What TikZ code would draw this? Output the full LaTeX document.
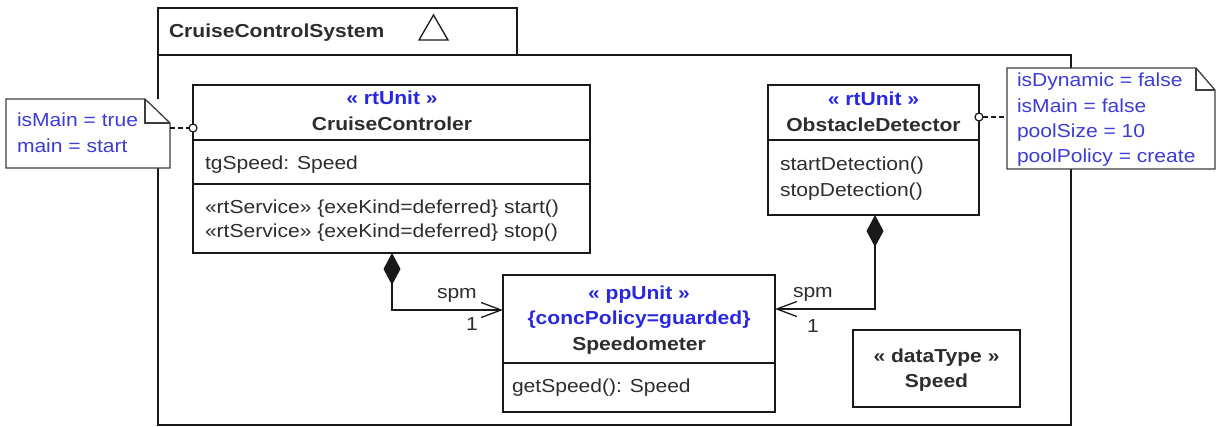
\documentclass[tikz,border=0pt]{standalone}
\usepackage{fontspec}
\setmainfont{Liberation Sans}[FakeStretch=1.12]
\usetikzlibrary{arrows.meta}
\definecolor{stereo}{RGB}{40,40,225}
\definecolor{notetext}{RGB}{60,60,215}
\definecolor{txt}{RGB}{45,45,45}
\definecolor{ln}{RGB}{25,25,25}
\begin{document}
\begin{tikzpicture}[x=1bp,y=-1bp,
  every node/.style={inner sep=0pt, outer sep=0pt, text=txt, font=\fontsize{18.8bp}{26bp}\selectfont},
  box/.style={draw=ln, line width=1.6bp, fill=white, anchor=north west},
  sep/.style={draw=ln, line width=1.6bp},
  notefill/.style={fill=white, anchor=north west},
  noteline/.style={draw=ln!85, line width=1.3bp},
  lt/.style={anchor=base west},
  ct/.style={anchor=base},
  bt/.style={anchor=base, font=\fontsize{18.8bp}{26bp}\selectfont\bfseries},
  st/.style={anchor=base, text=stereo, font=\fontsize{18.8bp}{26bp}\selectfont\bfseries},
  nt/.style={anchor=base west, text=notetext},
  port/.style={circle, draw=ln, line width=1.2bp, fill=white, minimum size=8bp},
  link/.style={draw=ln, line width=1.2bp, dashed, dash pattern=on 5bp off 3bp},
  assoc/.style={draw=ln, line width=1.6bp, {Diamond[length=32bp,width=17bp,fill=ln]}-{Straight Barb[length=20bp,width=15bp,line width=1.3bp]}}
]
\useasboundingbox (0,0) rectangle (1217,426);

% frame
\node[box, minimum width=913bp, minimum height=370bp] (frame) at (158,55) {};
\node[box, minimum width=359bp, minimum height=47bp] (tab) at (158,8) {};
\node[anchor=base west, font=\fontsize{18.8bp}{26bp}\selectfont\bfseries] (title) at (169,37) {CruiseControlSystem};
\draw[draw=ln, line width=1.3bp] (419,40) -- (433.5,15) -- (448,40) -- cycle;

% CruiseControler
\node[box, minimum width=397bp, minimum height=168bp] (cc) at (193,85) {};
\draw[sep] (cc.west |- 0,140) -- (cc.east |- 0,140);
\draw[sep] (cc.west |- 0,184) -- (cc.east |- 0,184);
\node[st] (cs) at (392,104) {« rtUnit »};
\node[bt] (cn) at (392,130) {CruiseControler};
\node[lt] (ca) at (205,169) {tgSpeed: Speed};
\node[lt] (co1) at (205,213) {«rtService» \{exeKind=deferred\} start()};
\node[lt] (co2) at (205,237) {«rtService» \{exeKind=deferred\} stop()};

% ObstacleDetector
\node[box, minimum width=211bp, minimum height=130bp] (od) at (768,85) {};
\draw[sep] (od.west |- 0,140) -- (od.east |- 0,140);
\node[st] (os) at (873.5,105) {« rtUnit »};
\node[bt] (on) at (873.5,131) {ObstacleDetector};
\node[lt] (oo1) at (780,170) {startDetection()};
\node[lt] (oo2) at (780,196) {stopDetection()};

% Speedometer
\node[box, minimum width=272bp, minimum height=137bp] (sp) at (503,275) {};
\draw[sep] (sp.west |- 0,363) -- (sp.east |- 0,363);
\node[st] (ss) at (639,299) {« ppUnit »};
\node[st] (sc) at (639,324) {\{concPolicy=guarded\}};
\node[bt] (sn) at (639,350) {Speedometer};
\node[lt] (so) at (512,392) {getSpeed(): Speed};

% Speed
\node[box, minimum width=167bp, minimum height=77bp] (spd) at (853,330) {};
\node[bt] (ds) at (936.5,362) {« dataType »};
\node[bt] (dn) at (936.5,387) {Speed};

% compositions
\coordinate (k1) at (392,310);
\coordinate (k2) at (875,309);
\draw[assoc] (cc.south -| k1) -- (k1) -- (k1 -| sp.west);
\draw[assoc] (od.south -| k2) -- (k2) -- (k2 -| sp.east);
\node[lt] (l1) at (437,298) {spm};
\node[ct] (l2) at (472,330) {1};
\node[lt] (l3) at (793,297) {spm};
\node[ct] (l4) at (813,332) {1};

% left note
\node[notefill, minimum width=164bp, minimum height=69bp] (n1) at (6,99) {};
\draw[noteline] (n1.north west) -- ([xshift=-25bp]n1.north east) -- ([yshift=-24bp]n1.north east) -- (n1.south east) -- (n1.south west) -- cycle;
\draw[noteline] ([xshift=-25bp]n1.north east) |- ([yshift=-24bp]n1.north east);
\node[nt] (m1) at (17,126) {isMain = true};
\node[nt] (m2) at (17,152) {main = start};
\node[port] (p1) at (193,128) {};
\draw[link] (n1.east |- p1) -- (p1.west);

% right note
\node[notefill, minimum width=208bp, minimum height=101bp] (n2) at (1007,68) {};
\draw[noteline] (n2.north west) -- ([xshift=-19bp]n2.north east) -- ([yshift=-22bp]n2.north east) -- (n2.south east) -- (n2.south west) -- cycle;
\draw[noteline] ([xshift=-19bp]n2.north east) |- ([yshift=-22bp]n2.north east);
\node[nt] (r1) at (1017,86) {isDynamic = false};
\node[nt] (r2) at (1017,112) {isMain = false};
\node[nt] (r3) at (1017,137) {poolSize = 10};
\node[nt] (r4) at (1017,162) {poolPolicy = create};
\node[port] (p2) at (979,117) {};
\draw[link] (p2.east) -- (n2.west |- p2);
\end{tikzpicture}
\end{document}
